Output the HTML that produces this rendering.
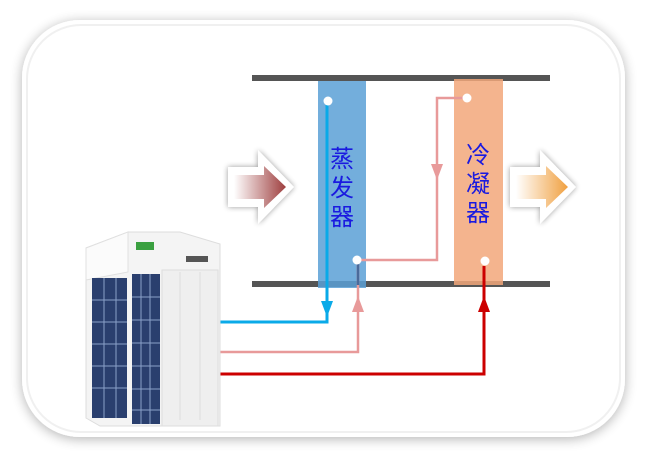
<!DOCTYPE html>
<html><head><meta charset="utf-8"><style>
html,body{margin:0;padding:0;background:#fff;}
svg{display:block;}
text{font-family:"Liberation Sans","Noto Sans CJK SC",sans-serif;}
</style></head><body>
<svg width="646" height="457" viewBox="0 0 646 457" xmlns="http://www.w3.org/2000/svg">
<defs>
<filter id="sh" x="-20%" y="-20%" width="140%" height="140%"><feGaussianBlur in="SourceAlpha" stdDeviation="6"/><feOffset dx="0" dy="2"/><feComponentTransfer><feFuncA type="linear" slope="0.3"/></feComponentTransfer><feMerge><feMergeNode/><feMergeNode in="SourceGraphic"/></feMerge></filter>
<filter id="sh2" x="-30%" y="-30%" width="160%" height="160%"><feGaussianBlur in="SourceAlpha" stdDeviation="3"/><feComponentTransfer><feFuncA type="linear" slope="0.4"/></feComponentTransfer><feMerge><feMergeNode/><feMergeNode in="SourceGraphic"/></feMerge></filter>
<linearGradient id="g1" x1="0" x2="1"><stop offset="0" stop-color="#fff"/><stop offset="1" stop-color="#9e3e3e"/></linearGradient>
<linearGradient id="g2" x1="0" x2="1"><stop offset="0" stop-color="#fff"/><stop offset="1" stop-color="#f0a040"/></linearGradient>
</defs>
<rect x="22" y="20" width="603" height="417" rx="58" fill="#fff" filter="url(#sh)"/>
<rect x="27" y="25" width="593" height="407" rx="54" fill="none" stroke="#f0f0f0" stroke-width="2"/>
<g filter="url(#sh2)"><path d="M228 167H258V150L294 187L258 224V207H228Z" fill="#fff"/></g>
<path d="M234 175H264V166L286 187L264 208V199H234Z" fill="url(#g1)"/>
<g filter="url(#sh2)"><path d="M510 167H540V150L576 187L540 224V207H510Z" fill="#fff"/></g>
<path d="M516 175H546V166L568 187L546 208V199H516Z" fill="url(#g2)"/>
<rect x="252" y="75" width="298" height="6" fill="#555"/>
<rect x="252" y="281" width="298" height="6" fill="#555"/>
<rect x="318" y="81" width="48" height="207" fill="#5aa0d6" opacity="0.85"/>
<rect x="454" y="79" width="49" height="206" fill="#f2a77a" opacity="0.85"/>
<g font-size="24" fill="#1a1ae0" text-anchor="middle">
<text x="342" y="167">蒸</text>
<text x="342" y="196">发</text>
<text x="342" y="225">器</text>
<text x="478" y="163">冷</text>
<text x="478" y="192">凝</text>
<text x="478" y="221">器</text>
</g>
<path d="M327 101V322H218" fill="none" stroke="#0aaae8" stroke-width="3"/>
<path d="M321 301L333 301L327 317Z" fill="#0aaae8"/>
<path d="M218 352H358V262" fill="none" stroke="#e89a9a" stroke-width="2.5"/>
<path d="M358 262V285" stroke="#4a6a9a" stroke-width="2.5"/>
<path d="M352 312L364 312L358 296Z" fill="#e89a9a"/>
<path d="M357 260H437V98H467" fill="none" stroke="#e89a9a" stroke-width="2.5"/>
<path d="M431 164L443 164L437 180Z" fill="#e89a9a"/>
<path d="M218 374H484V266" fill="none" stroke="#cc0000" stroke-width="3"/>
<path d="M478 312L490 312L484 296Z" fill="#cc0000"/>
<circle cx="328" cy="101" r="4.5" fill="#fff"/>
<circle cx="357" cy="260" r="4.5" fill="#fff"/>
<circle cx="467" cy="98" r="4.5" fill="#fff"/>
<circle cx="485" cy="261" r="4.5" fill="#fff"/>
<path d="M86 248L128 232H180L220 244V426H100L86 418Z" fill="#f4f4f4" stroke="#ddd"/>
<path d="M86 248L128 232V272L86 280Z" fill="#fbfbfb" stroke="#e0e0e0"/>
<rect x="92" y="278" width="35" height="140" fill="#2a3f6e"/>
<rect x="132" y="274" width="28" height="150" fill="#2a3f6e"/>
<g stroke="#8aa0c8" stroke-width="1">
<path d="M92 300H127M92 322H127M92 344H127M92 366H127M92 388H127M132 297H160M132 320H160M132 343H160M132 366H160M132 389H160M132 410H160"/>
<path d="M104 278V418M116 278V418M141 274V424M150 274V424"/>
</g>
<rect x="162" y="270" width="56" height="156" fill="#efefef" stroke="#ddd"/>
<path d="M180 272V420M200 272V420" stroke="#ddd"/>
<rect x="136" y="242" width="18" height="8" fill="#3aa040"/>
<rect x="186" y="256" width="22" height="6" fill="#555"/>
</svg>
</body></html>
